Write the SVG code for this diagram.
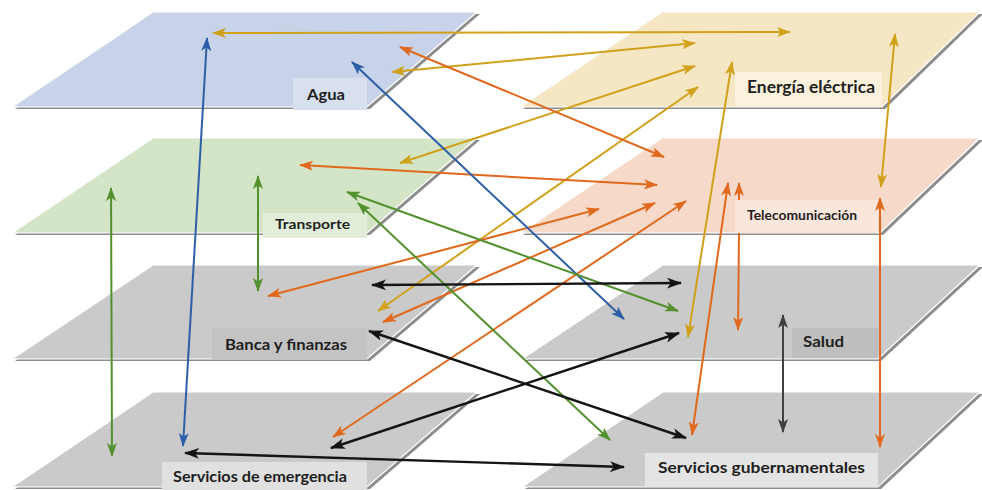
<svg xmlns="http://www.w3.org/2000/svg" width="982" height="490" viewBox="0 0 982 490">
  <defs>
    <style>
      .edge { fill: #8c8c8c; }
      .plane { stroke: #ffffff; stroke-width: 1.2; }
      .lbl { font-family: Lato, "Open Sans", "Liberation Sans", sans-serif; font-weight: 700; fill: #1e1e1e; }
      .c { fill: none; stroke-width: 2; }
      .gold { stroke: #d1a11c; marker-start: url(#hGold); marker-end: url(#hGold); }
      .orange { stroke: #e0691d; marker-start: url(#hOrange); marker-end: url(#hOrange); }
      .blue { stroke: #2d5ea8; marker-start: url(#hBlue); marker-end: url(#hBlue); }
      .green { stroke: #53912f; marker-start: url(#hGreen); marker-end: url(#hGreen); }
      .black { stroke: #141414; stroke-width: 2.4; marker-start: url(#hBlack); marker-end: url(#hBlack); }
      .dgray { stroke: #404040; marker-start: url(#hDgray); marker-end: url(#hDgray); }
    </style>
    <marker id="hGold" viewBox="0 0 14 10" markerWidth="14" markerHeight="10" refX="13" refY="5" orient="auto-start-reverse" markerUnits="userSpaceOnUse"><path d="M0,0 L14,5 L0,10 L3.5,5 Z" fill="#d1a11c"/></marker>
    <marker id="hOrange" viewBox="0 0 14 10" markerWidth="14" markerHeight="10" refX="13" refY="5" orient="auto-start-reverse" markerUnits="userSpaceOnUse"><path d="M0,0 L14,5 L0,10 L3.5,5 Z" fill="#e0691d"/></marker>
    <marker id="hBlue" viewBox="0 0 14 10" markerWidth="14" markerHeight="10" refX="13" refY="5" orient="auto-start-reverse" markerUnits="userSpaceOnUse"><path d="M0,0 L14,5 L0,10 L3.5,5 Z" fill="#2d5ea8"/></marker>
    <marker id="hGreen" viewBox="0 0 14 10" markerWidth="14" markerHeight="10" refX="13" refY="5" orient="auto-start-reverse" markerUnits="userSpaceOnUse"><path d="M0,0 L14,5 L0,10 L3.5,5 Z" fill="#53912f"/></marker>
    <marker id="hBlack" viewBox="0 0 14 10" markerWidth="15" markerHeight="11" refX="13" refY="5" orient="auto-start-reverse" markerUnits="userSpaceOnUse"><path d="M0,0 L14,5 L0,10 L3.5,5 Z" fill="#141414"/></marker>
    <marker id="hDgray" viewBox="0 0 14 10" markerWidth="14" markerHeight="10" refX="13" refY="5" orient="auto-start-reverse" markerUnits="userSpaceOnUse"><path d="M0,0 L14,5 L0,10 L3.5,5 Z" fill="#404040"/></marker>
  </defs>

  <rect width="982" height="490" fill="#ffffff"/>

  <!-- layer slabs: left column -->
  <g id="agua">
    <polygon class="edge" points="156,14 480,14 370,109 15,109"/>
    <polygon class="plane" fill="#c8d2e9" points="153,12 477,12 367,107 12,107"/>
    <rect x="293" y="78" width="74" height="32" fill="#d8e0f0"/>
    <text class="lbl" x="307" y="100" font-size="16" textLength="38" lengthAdjust="spacingAndGlyphs">Agua</text>
  </g>
  <g id="transporte">
    <polygon class="edge" points="156,140 480,140 370,235 15,235"/>
    <polygon class="plane" fill="#d4e5c7" points="153,138 477,138 367,233 12,233"/>
    <rect x="263" y="213" width="104" height="25" fill="#e2eed9"/>
    <text class="lbl" x="275" y="229" font-size="13.5" textLength="75" lengthAdjust="spacingAndGlyphs">Transporte</text>
  </g>
  <g id="banca">
    <polygon class="edge" points="156,267 480,267 370,361 15,361"/>
    <polygon class="plane" fill="#cacaca" points="153,265 477,265 367,359 12,359"/>
    <rect x="212" y="328" width="155" height="32" fill="#c3c3c3"/>
    <text class="lbl" x="225" y="350" font-size="16" textLength="122" lengthAdjust="spacingAndGlyphs">Banca y finanzas</text>
  </g>
  <g id="emergencia">
    <polygon class="edge" points="156,394 480,394 370,489 15,489"/>
    <polygon class="plane" fill="#cacaca" points="153,392 477,392 367,487 12,487"/>
    <rect x="162" y="462" width="205" height="28" fill="#e0e0e0"/>
    <text class="lbl" x="173" y="482" font-size="16" textLength="174" lengthAdjust="spacingAndGlyphs">Servicios de emergencia</text>
  </g>

  <!-- layer slabs: right column -->
  <g id="energia">
    <polygon class="edge" points="665,14 983,14 885,109 523,109"/>
    <polygon class="plane" fill="#f6e7c4" points="662,12 980,12 882,107 520,107"/>
    <rect x="735" y="72" width="147" height="35" fill="#fbf1dc"/>
    <text class="lbl" x="747" y="93" font-size="16.5" textLength="128" lengthAdjust="spacingAndGlyphs">Energía eléctrica</text>
  </g>
  <g id="telecomunicacion">
    <polygon class="edge" points="665,140 983,140 883,235 523,235"/>
    <polygon class="plane" fill="#f7d9ca" points="662,138 980,138 880,233 520,233"/>
    <rect x="735" y="200" width="143" height="33" fill="#fbe6dc"/>
    <text class="lbl" x="747" y="220" font-size="12.5" textLength="110" lengthAdjust="spacingAndGlyphs">Telecomunicación</text>
  </g>
  <g id="salud">
    <polygon class="edge" points="666,267 983,267 881,361 525,361"/>
    <polygon class="plane" fill="#cacaca" points="663,265 980,265 878,359 522,359"/>
    <rect x="792" y="328" width="86" height="30" fill="#bebebe"/>
    <text class="lbl" x="803" y="347" font-size="15" textLength="41" lengthAdjust="spacingAndGlyphs">Salud</text>
  </g>
  <g id="gubernamentales">
    <polygon class="edge" points="666,394 983,394 881,489 525,489"/>
    <polygon class="plane" fill="#cacaca" points="663,392 980,392 878,487 522,487"/>
    <rect x="645" y="453" width="233" height="34" fill="#e4e4e4"/>
    <text class="lbl" x="658" y="473" font-size="16" textLength="207" lengthAdjust="spacingAndGlyphs">Servicios gubernamentales</text>
  </g>

  <!-- interdependency links (all two-way) -->
  <g id="connectors">
    <!-- energía eléctrica -->
    <path class="c gold" d="M213,33 L790,32"/>
    <path class="c gold" d="M392,72 L695,43"/>
    <path class="c gold" d="M400,163 L695,66"/>
    <path class="c gold" d="M378,311 L698,87"/>
    <path class="c gold" d="M732,62 L688,337"/>
    <path class="c gold" d="M895,34 L881,187"/>
    <!-- telecomunicación -->
    <path class="c orange" d="M400,47 L664,157"/>
    <path class="c orange" d="M300,165 L657,185"/>
    <path class="c orange" d="M268,296 L599,209"/>
    <path class="c orange" d="M383,322 L655,203"/>
    <path class="c orange" d="M333,437 L686,201"/>
    <path class="c orange" d="M728,183 L692,435"/>
    <path class="c orange" d="M739,183 L739,200 M739,233 L738,330"/>
    <path class="c orange" d="M880,198 L880,447"/>
    <!-- agua -->
    <path class="c blue" d="M207,38 L183,446"/>
    <path class="c blue" d="M352,62 L624,319"/>
    <!-- transporte -->
    <path class="c green" d="M111,188 L112,456"/>
    <path class="c green" d="M258,176 L258,291"/>
    <path class="c green" d="M347,192 L678,311"/>
    <path class="c green" d="M358,203 L610,440"/>
    <!-- banca, salud, emergencia, gobierno -->
    <path class="c black" d="M372,285 L681,283"/>
    <path class="c black" d="M369,331 L686,438"/>
    <path class="c black" d="M331,448 L679,333"/>
    <path class="c black" d="M185,453 L624,467"/>
    <path class="c dgray" d="M783,315 L783,432"/>
  </g>
</svg>
